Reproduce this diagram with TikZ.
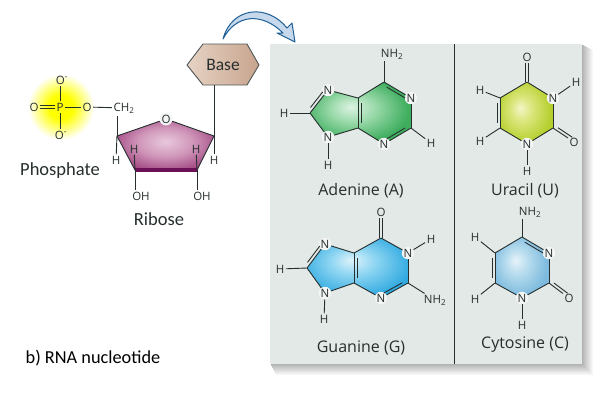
\documentclass[tikz,border=0pt]{standalone}
\usepackage{fontspec}
\setmainfont{Carlito}
\newfontfamily\chemfont{Open Sans}
\usetikzlibrary{calc}
\usetikzlibrary{backgrounds}

\definecolor{panelcol}{HTML}{E3E9E6}
\definecolor{inkcol}{HTML}{262E2E}
\definecolor{basecol}{HTML}{E6D3C4}
\definecolor{basedark}{HTML}{C8A48E}
\definecolor{arrowcol}{HTML}{1F5F96}
\definecolor{arrowfill}{HTML}{C5D8EC}
\definecolor{ribosebar}{HTML}{6B0F56}
\definecolor{gcentre}{HTML}{DDF2E2}\definecolor{gmid}{HTML}{9BDAAB}\definecolor{gedge}{HTML}{3FAE5F}
\definecolor{lcentre}{HTML}{F3F6C8}\definecolor{lmid}{HTML}{DBE67C}\definecolor{ledge}{HTML}{B5CF2E}
\definecolor{bcentre}{HTML}{DDF2FA}\definecolor{bmid}{HTML}{8FD6F2}\definecolor{bedge}{HTML}{2FA9E0}
\definecolor{pcentre}{HTML}{E6F3F9}\definecolor{pmid}{HTML}{B9DDEE}\definecolor{pedge}{HTML}{7DBBDE}
\definecolor{rcentre}{HTML}{E8C8DC}\definecolor{rmid}{HTML}{D097BA}\definecolor{redge}{HTML}{9C3F7C}

% radial fills with the highlight up and to the left
\pgfdeclareradialshading{greenglow}{\pgfpoint{-5bp}{5bp}}{color(0bp)=(gcentre); color(11bp)=(gmid); color(26bp)=(gedge); color(50bp)=(gedge)}
\pgfdeclareradialshading{limeglow}{\pgfpoint{-6bp}{4bp}}{color(0bp)=(lcentre); color(10bp)=(lmid); color(26bp)=(ledge); color(50bp)=(ledge)}
\pgfdeclareradialshading{blueglow}{\pgfpoint{-3bp}{7bp}}{color(0bp)=(bcentre); color(11bp)=(bmid); color(28bp)=(bedge); color(50bp)=(bedge)}
\pgfdeclareradialshading{paleglow}{\pgfpoint{-6bp}{6bp}}{color(0bp)=(pcentre); color(10bp)=(pmid); color(26bp)=(pedge); color(50bp)=(pedge)}
\pgfdeclareradialshading{riboseglow}{\pgfpoint{0bp}{3bp}}{color(0bp)=(rcentre); color(14bp)=(rmid); color(30bp)=(redge); color(50bp)=(redge)}
\pgfdeclareradialshading{yellowglow}{\pgfpoint{0bp}{0bp}}{color(0bp)=(yellow); color(9bp)=(yellow); color(17bp)=(yellow!50!white); color(25bp)=(white); color(50bp)=(white)}

\tikzset{
  atom/.style={font=\chemfont\fontsize{11.5}{11.5}\selectfont, text=inkcol, inner sep=1.4pt},
  halo/.style={atom, circle, fill=white!60!panelcol, inner sep=0.2pt},
  vertex/.style={inner sep=0pt, minimum size=0pt},
  bond/.style={draw=inkcol, line width=0.9pt},
  caption/.style={font=\fontsize{18.5}{18.5}\selectfont, text=inkcol},
  chemname/.style={font=\chemfont\fontsize{16}{16}\selectfont, text=inkcol},
}

% second stroke of a double bond, on the given side (90 or -90)
\newcommand{\dbond}[3]{\draw[bond] ($(#1.center)!0.16!(#2.center)!3pt!#3:(#2.center)$) -- ($(#2.center)!0.16!(#1.center)!3pt!-#3:(#1.center)$);}

\begin{document}
\begin{tikzpicture}[x=1pt,y=-1pt]
        \useasboundingbox (0,0) rectangle (614,400);

        % grey panel
        \begin{pgfonlayer}{background}
        \foreach \off in {12,...,1} {
            \pgfmathtruncatemacro{\shadeval}{33-2.7*\off}
            \fill[black!\shadeval] (270+\off/2,44+\off/2) rectangle (582+\off,364+\off);
        }
        \fill[panelcol] (270,44) rectangle (582,364);
        \end{pgfonlayer}
        \node[vertex] (divtop) at (454,44) {};
        \node[vertex] (divbot) at (454,364) {};
        \draw[inkcol,line width=0.9pt] (divtop) -- (divbot);

        % phosphate
        \begin{pgfonlayer}{background}
        \shade[shading=yellowglow] (61,107) circle (33);
        \end{pgfonlayer}
        \node[atom] (pp) at (60,107) {P};
        \node[atom] (po1) at (62,80) {O\textsuperscript{-}};
        \node[atom] (po2) at (61,135) {O\textsuperscript{-}};
        \node[atom] (po3) at (34,107) {O};
        \node[atom] (po4) at (87,107) {O};
        \node[atom] (ch2) at (124,108) {CH\textsubscript{2}};
        \draw[bond] (pp) -- (pp |- po1.south);
        \draw[bond] (pp) -- (pp |- po2.north);
        \draw[bond,transform canvas={yshift=1.7pt}] (pp) -- (po3);
        \draw[bond,transform canvas={yshift=-1.7pt}] (pp) -- (po3);
        \draw[bond] (pp) -- (po4);
        \draw[bond] (po4) -- (ch2);
        \node[caption] (phosphate) at (60,171) {Phosphate};

        % ribose
        \node[vertex] (r1) at (117,136) {};
        \node[vertex] (r2) at (135,170) {};
        \node[vertex] (r3) at (197,170) {};
        \node[vertex] (r4) at (214,136) {};
        \node[halo] (ro) at (166,119) {O};
        \begin{pgfonlayer}{background}
        \shade[shading=riboseglow] (r1.center) -- (r2.center) -- (r3.center) -- (r4.center) -- (ro.center) -- cycle;
        \end{pgfonlayer}
        \draw[bond] (r1.center) -- (ro);
        \draw[bond] (ro) -- (r4.center);
        \draw[bond] (r1.center) -- (r2.center);
        \draw[bond] (r4.center) -- (r3.center);
        \draw[line width=4pt,color=ribosebar] (r2.center) -- (r3.center);
        \node[atom] (rh1) at (116,160) {H};
        \node[atom] (rh2) at (134,149) {H};
        \node[atom] (rh3) at (196,149) {H};
        \node[atom] (rh4) at (214,160) {H};
        \node[atom] (roh1) at (141,196) {OH};
        \node[atom] (roh2) at (202,196) {OH};
        \node[vertex] (ch2foot) at (117,116) {};
        \draw[bond] (r1.center) -- (rh1);
        \draw[bond] (r1.center) -- (ch2foot);
        \draw[bond] (r2.center) -- (rh2);
        \draw[bond] (r3.center) -- (rh3);
        \draw[bond] (r4.center) -- (rh4);
        \draw[bond] (r2.center) -- (r2.center |- roh1.north);
        \draw[bond] (r3.center) -- (r3.center |- roh2.north);
        \node[caption] (ribose) at (159,219) {Ribose};

        % base
        \node[font=\fontsize{17.5}{17.5}\selectfont,text=inkcol] (base) at (223,65) {Base};
        \begin{pgfonlayer}{background}
        \shadedraw[left color=basecol,right color=basedark,draw=inkcol!80,line width=0.9pt] (187,65) -- (203,44) -- (247,44) -- (259,65) -- (247,85) -- (203,85) -- cycle;
        \end{pgfonlayer}
        \node[vertex] (basefoot) at (214,85) {};
        \draw[bond] (basefoot) -- (r4.center);

        % arrow from base to panel
        \node[vertex] (arrowtail) at (223,39) {};
        \node[vertex] (arrowtip) at (295,42) {};
        \filldraw[fill=arrowfill,draw=arrowcol,line width=1pt,line join=round] (arrowtail.center)
            .. controls (232,6) and (268,4) .. (287,28) -- (292,23) -- (arrowtip.center) -- (277,33) -- (283,33)
            .. controls (262,12) and (236,14) .. (arrowtail.center) -- cycle;

        % adenine
        \node[halo] (an7) at (328,90) {N};
        \node[vertex] (ac8) at (310,113) {};
        \node[halo] (an9) at (328,137) {N};
        \node[vertex] (ac4) at (358,128) {};
        \node[vertex] (ac5) at (358,98) {};
        \node[vertex] (ac6) at (384,82) {};
        \node[halo] (an1) at (411,98) {N};
        \node[vertex] (ac2) at (411,128) {};
        \node[halo] (an3) at (384,144) {N};
        \node[atom] (anh2) at (392,54) {NH\textsubscript{2}};
        \node[atom] (ah8) at (284,113) {H};
        \node[atom] (ah9) at (328,165) {H};
        \node[atom] (ah2) at (431,143) {H};
        \begin{pgfonlayer}{background}
        \shade[shading=greenglow] (an7.center) -- (ac5.center) -- (ac6.center) -- (an1.center) -- (ac2.center) -- (an3.center) -- (ac4.center) -- (an9.center) -- (ac8.center) -- cycle;
        \end{pgfonlayer}
        \foreach \a/\b in {an7/ac8,ac8/an9,an9/ac4,ac4/ac5,ac5/an7,ac5/ac6,ac6/an1,an1/ac2,ac2/an3,an3/ac4,ac8/ah8,an9/ah9,ac2/ah2}
            \draw[bond] (\a) -- (\b);
        \draw[bond] (ac6) -- (anh2.south west -| ac6);
        \dbond{an7}{ac8}{-90}
        \dbond{ac4}{ac5}{-90}
        \dbond{ac6}{an1}{-90}
        \dbond{ac2}{an3}{-90}
        \node[chemname] (adenine) at (361,191) {Adenine (A)};

        % uracil
        \node[atom] (uo4) at (527,57) {O};
        \node[vertex] (uc4) at (527,82) {};
        \node[halo] (un3) at (553,98) {N};
        \node[atom] (uh3) at (576,82) {H};
        \node[vertex] (uc2) at (553,128) {};
        \node[atom] (uo2) at (574,142) {O};
        \node[halo] (un1) at (527,144) {N};
        \node[atom] (uh1) at (527,171) {H};
        \node[vertex] (uc6) at (500,128) {};
        \node[vertex] (uc5) at (500,98) {};
        \node[atom] (uh5) at (480,90) {H};
        \node[atom] (uh6) at (480,141) {H};
        \begin{pgfonlayer}{background}
        \shade[shading=limeglow] (uc4.center) -- (un3.center) -- (uc2.center) -- (un1.center) -- (uc6.center) -- (uc5.center) -- cycle;
        \end{pgfonlayer}
        \foreach \a/\b in {uc4/un3,un3/uc2,uc2/un1,un1/uc6,uc6/uc5,uc5/uc4,un3/uh3,un1/uh1,uc5/uh5,uc6/uh6}
            \draw[bond] (\a) -- (\b);
        \draw[bond,transform canvas={xshift=1.6pt}] (uc4) -- (uo4);
        \draw[bond,transform canvas={xshift=-1.6pt}] (uc4) -- (uo4);
        \draw[bond] (uc2) -- (uo2);
        \dbond{uc2}{uo2}{90}
        \dbond{uc6}{uc5}{90}
        \node[chemname] (uracil) at (525,191) {Uracil (U)};

        % guanine
        \node[atom] (go6) at (381,212) {O};
        \node[vertex] (gc6) at (381,238) {};
        \node[halo] (gn1) at (408,253) {N};
        \node[atom] (gh1) at (431,239) {H};
        \node[vertex] (gc2) at (408,283) {};
        \node[atom] (gnh2) at (435,300) {NH\textsubscript{2}};
        \node[halo] (gn3) at (381,298) {N};
        \node[vertex] (gc4) at (354,283) {};
        \node[vertex] (gc5) at (354,253) {};
        \node[halo] (gn7) at (325,244) {N};
        \node[vertex] (gc8) at (307,268) {};
        \node[atom] (gh8) at (280,269) {H};
        \node[halo] (gn9) at (325,293) {N};
        \node[atom] (gh9) at (324,319) {H};
        \begin{pgfonlayer}{background}
        \shade[shading=blueglow] (gn7.center) -- (gc5.center) -- (gc6.center) -- (gn1.center) -- (gc2.center) -- (gn3.center) -- (gc4.center) -- (gn9.center) -- (gc8.center) -- cycle;
        \end{pgfonlayer}
        \foreach \a/\b in {gn7/gc8,gc8/gn9,gn9/gc4,gc4/gc5,gc5/gn7,gc5/gc6,gc6/gn1,gn1/gc2,gc2/gn3,gn3/gc4,gc8/gh8,gn9/gh9,gn1/gh1,gc2/gnh2}
            \draw[bond] (\a) -- (\b);
        \draw[bond,transform canvas={xshift=1.6pt}] (gc6) -- (go6);
        \draw[bond,transform canvas={xshift=-1.6pt}] (gc6) -- (go6);
        \dbond{gn7}{gc8}{-90}
        \dbond{gc4}{gc5}{-90}
        \dbond{gc2}{gn3}{-90}
        \node[chemname] (guanine) at (361,348) {Guanine (G)};

        % cytosine
        \node[atom] (cnh2) at (530,212) {NH\textsubscript{2}};
        \node[vertex] (cc4) at (522,237) {};
        \node[halo] (cn3) at (549,253) {N};
        \node[vertex] (cc2) at (549,283) {};
        \node[atom] (co2) at (569,298) {O};
        \node[halo] (cn1) at (522,298) {N};
        \node[atom] (ch1) at (522,325) {H};
        \node[vertex] (cc6) at (495,283) {};
        \node[vertex] (cc5) at (495,253) {};
        \node[atom] (ch5) at (475,237) {H};
        \node[atom] (ch6) at (475,299) {H};
        \begin{pgfonlayer}{background}
        \shade[shading=paleglow] (cc4.center) -- (cn3.center) -- (cc2.center) -- (cn1.center) -- (cc6.center) -- (cc5.center) -- cycle;
        \end{pgfonlayer}
        \foreach \a/\b in {cc4/cn3,cn3/cc2,cc2/cn1,cn1/cc6,cc6/cc5,cc5/cc4,cn1/ch1,cc5/ch5,cc6/ch6}
            \draw[bond] (\a) -- (\b);
        \draw[bond] (cc4) -- (cc4 |- cnh2.south);
        \draw[bond] (cc2) -- (co2);
        \dbond{cc2}{co2}{90}
        \dbond{cc4}{cn3}{-90}
        \dbond{cc6}{cc5}{90}
        \node[chemname] (cytosine) at (525,345) {Cytosine (C)};

        \node[font=\fontsize{18.3}{18.3}\selectfont,text=black] (title) at (93,358) {b) RNA nucleotide};
\end{tikzpicture}
\end{document}
